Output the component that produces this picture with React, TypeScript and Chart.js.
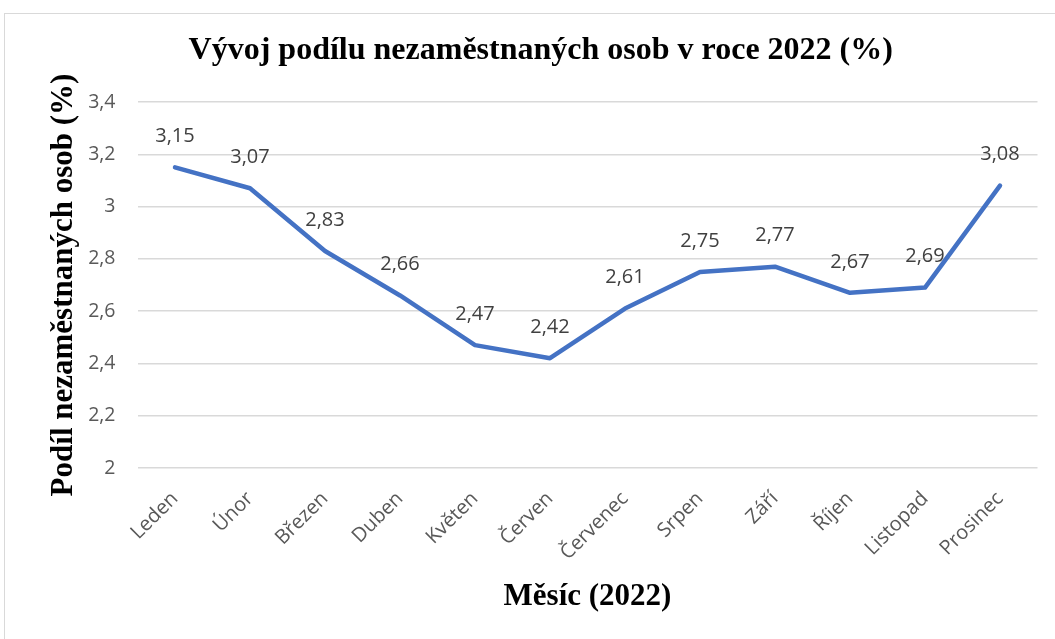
import React, { useEffect, useRef } from "react";
import { Chart, registerables } from "chart.js";

Chart.register(...registerables);

const months = ["Leden", "Únor", "Březen", "Duben", "Květen", "Červen", "Červenec", "Srpen", "Září", "Říjen", "Listopad", "Prosinec"];
const shares = [3.15, 3.07, 2.83, 2.66, 2.47, 2.42, 2.61, 2.75, 2.77, 2.67, 2.69, 3.08];
const yMin = 2;
const yMax = 3.4;
const yStep = 0.2;

const chartTitle = "Vývoj podílu nezaměstnaných osob v roce 2022 (%)";
const xTitle = "Měsíc (2022)";
const yTitle = "Podíl nezaměstnaných osob (%)";

const fmtTick = (v: number) => String(Math.round(v * 10) / 10).replace(".", ",");
const fmtLabel = (v: number) => v.toFixed(2).replace(".", ",");

const frameAndLabels = {
  id: "frameAndLabels",
  beforeDraw(chart: any) {
    const { ctx, width, height } = chart;
    ctx.save();
    ctx.fillStyle = "#ffffff";
    ctx.fillRect(0, 0, width, height);
    ctx.strokeStyle = "#d9d9d9";
    ctx.lineWidth = 1;
    ctx.strokeRect(0.5, 0.5, width + 10, height + 10);
    ctx.restore();
  },
  afterDatasetsDraw(chart: any) {
    const { ctx } = chart;
    const meta = chart.getDatasetMeta(0);
    ctx.save();
    ctx.font = "20px 'Open Sans'";
    ctx.fillStyle = "#404040";
    ctx.textAlign = "center";
    ctx.textBaseline = "middle";
    meta.data.forEach((pt: any, i: number) => {
      ctx.fillText(fmtLabel(shares[i]), pt.x, pt.y - 31);
    });
    ctx.restore();
  },
};

export default function App() {
  const ref = useRef<HTMLCanvasElement | null>(null);
  useEffect(() => {
    if (!ref.current) return;
    const chart = new Chart(ref.current, {
      type: "line",
      data: {
        labels: months,
        datasets: [
          {
            data: shares,
            borderColor: "#4472C4",
            backgroundColor: "#4472C4",
            borderWidth: 4.5,
            pointRadius: 0,
            tension: 0,
            borderCapStyle: "round",
            borderJoinStyle: "round",
          },
        ],
      },
      options: {
        animation: false,
        responsive: false,
        maintainAspectRatio: false,
        layout: { padding: { left: 40, right: 38.5, top: 0, bottom: 23.6 } },
        plugins: {
          legend: { display: false },
          tooltip: { enabled: false },
          title: {
            display: true,
            text: chartTitle,
            color: "#000000",
            font: { family: "'Liberation Serif'", size: 32, weight: "bold", lineHeight: 1.2 },
            padding: { top: 18.8, bottom: 31.8 },
          },
        },
        scales: {
          x: {
            offset: true,
            grid: { display: false, drawTicks: false },
            border: { display: false },
            ticks: {
              color: "#595959",
              font: { family: "'Open Sans'", size: 20 },
              maxRotation: 45,
              minRotation: 45,
              padding: 19,
              autoSkip: false,
            },
            title: {
              display: true,
              text: xTitle,
              color: "#000000",
              font: { family: "'Liberation Serif'", size: 31, weight: "bold", lineHeight: 1.2 },
              padding: { top: 0, bottom: 0 },
            },
            afterFit(scale: any) {
              scale.height = 147.4;
            },
          },
          y: {
            min: yMin,
            max: yMax,
            grid: { color: "#d9d9d9", lineWidth: 1.5, drawTicks: false },
            border: { display: false },
            ticks: {
              stepSize: yStep,
              color: "#595959",
              font: { family: "'Open Sans'", size: 19.5 },
              padding: 22,
              callback: (v: any) => fmtTick(Number(v)),
            },
            title: {
              display: true,
              text: yTitle,
              color: "#000000",
              font: { family: "'Liberation Serif'", size: 31, weight: "bold", lineHeight: 1.2 },
              padding: { top: 1.4, bottom: 0 },
            },
            afterFit(scale: any) {
              scale.width = 93.5;
            },
          },
        },
      },
      plugins: [frameAndLabels],
    });
    return () => chart.destroy();
  }, []);

  return (
    <div style={{ position: "fixed", left: 0, top: 0, width: 1055, height: 639, overflow: "hidden", background: "#ffffff" }}>
      <canvas ref={ref} width={1072} height={626} style={{ position: "absolute", left: 4, top: 13, width: 1072, height: 626 }} />
    </div>
  );
}
